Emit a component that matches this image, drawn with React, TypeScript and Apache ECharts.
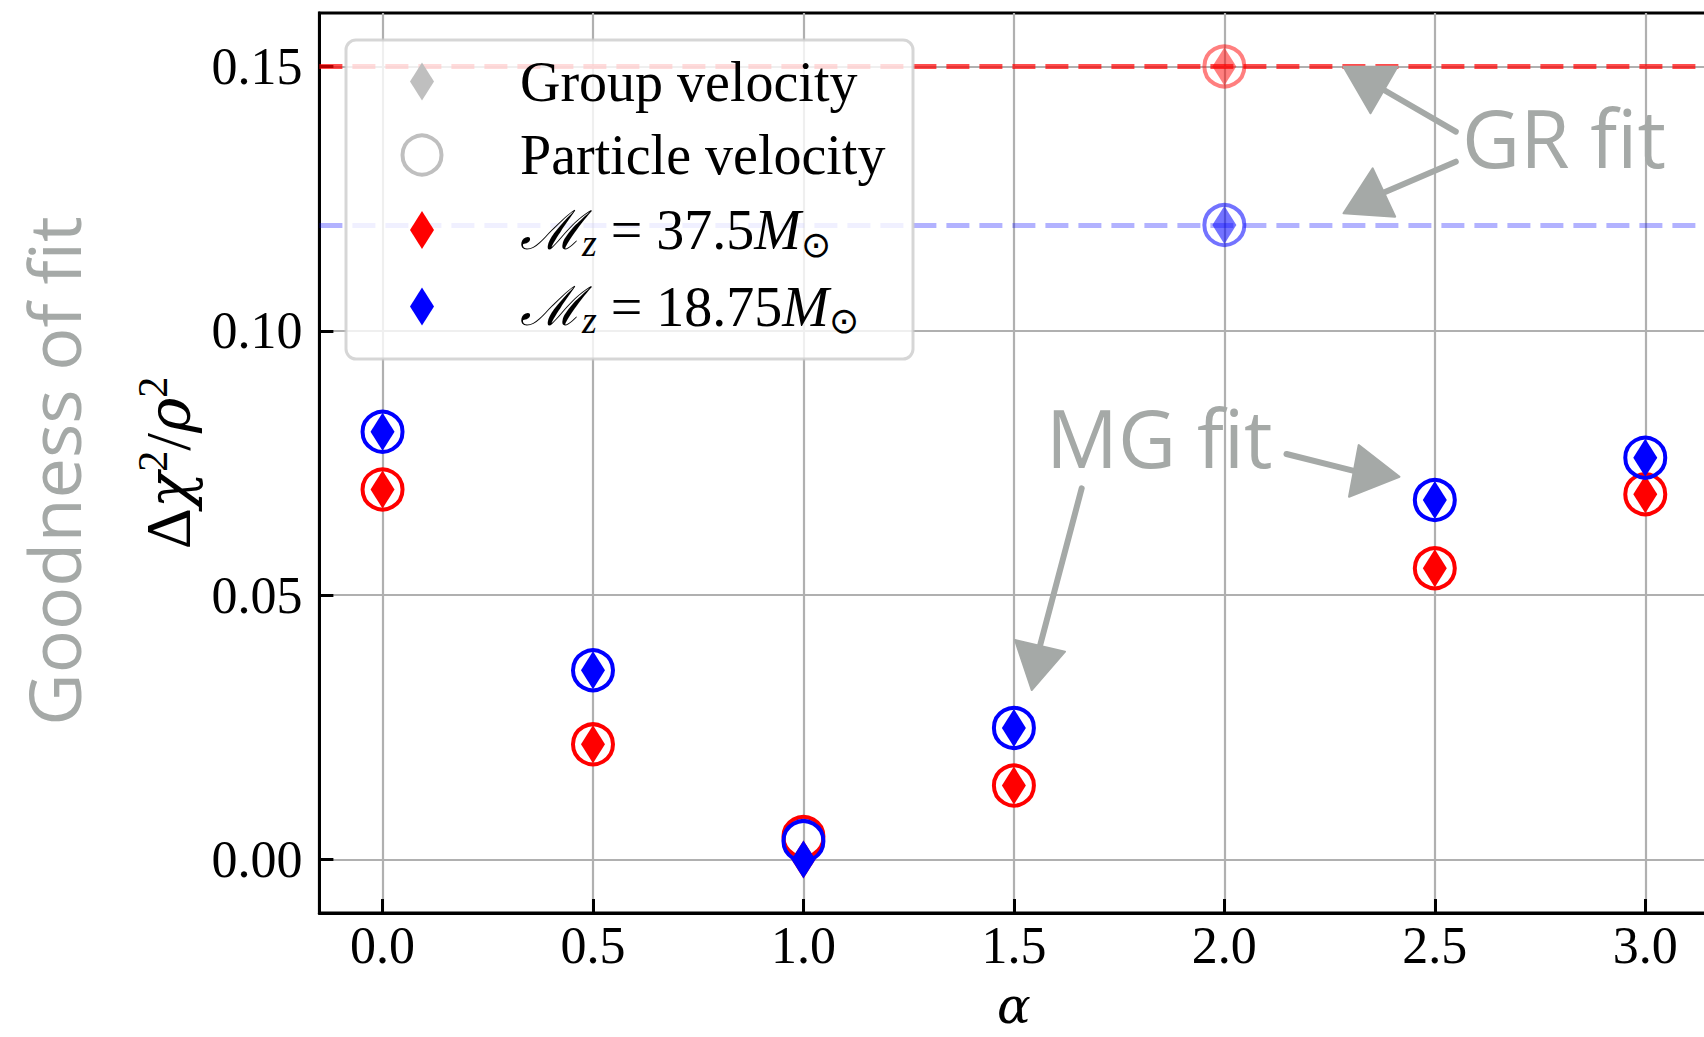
import React, { useEffect, useRef } from 'react';
import * as echarts from 'echarts';

// ---- data ----
const alphaValues = [0.0, 0.5, 1.0, 1.5, 2.5, 3.0];
const redGroupVelocity = [0.070, 0.0218, 0.0, 0.014, 0.0551, 0.0691];
const redParticleVelocity = [0.070, 0.0218, 0.0043, 0.014, 0.0551, 0.0691];
const blueGroupVelocity = [0.0809, 0.0358, 0.0, 0.0249, 0.068, 0.076];
const blueParticleVelocity = [0.0809, 0.0358, 0.0035, 0.0249, 0.068, 0.076];
const grAlpha = 2.0;
const grRed = 0.15;
const grBlue = 0.12;
const xTickValues = [0, 0.5, 1.0, 1.5, 2.0, 2.5, 3.0];
const yTickValues = [0, 0.05, 0.1, 0.15];

const GRAY = '#a5a9a7';
const SERIF = '"Liberation Serif", "DejaVu Serif", serif';
const GREEK = '"DejaVu Serif", serif';
const SANS = '"Open Sans", "Noto Sans", sans-serif';

const pair = (xs: number[], ys: number[]) => xs.map((x, i) => [x, ys[i]]);

const DIAMOND: [number, number] = [24, 38];
const CIRCLE = 40;

function diamondSeries(name: string, data: number[][], color: string, opacity = 1, z = 3) {
  return {
    type: 'scatter', name, data, symbol: 'diamond', symbolSize: DIAMOND, z,
    itemStyle: { color, opacity },
  };
}
function circleSeries(name: string, data: number[][], color: string, opacity = 1, z = 3) {
  return {
    type: 'scatter', name, data, symbol: 'circle', symbolSize: CIRCLE, z,
    itemStyle: { color: 'none', borderColor: color, borderWidth: 4, opacity },
  };
}

function txt(x: number, y: number, text: string, extra: any = {}, z = 60, rotation = 0) {
  const align = extra.align || 'left';
  return {
    type: 'text', x, y, z, rotation,
    style: {
      text,
      align, textAlign: align,
      verticalAlign: 'middle', textVerticalAlign: 'middle',
      ...extra,
    },
  };
}

function arrow(tail: number[], apex: number[], b1: number[], b2: number[]) {
  const mid = [(b1[0] + b2[0]) / 2, (b1[1] + b2[1]) / 2];
  return [
    {
      type: 'line', z: 40,
      shape: { x1: tail[0], y1: tail[1], x2: mid[0], y2: mid[1] },
      style: { stroke: GRAY, lineWidth: 6, lineCap: 'round' },
    },
    {
      type: 'polygon', z: 40,
      shape: { points: [apex, b1, b2] },
      style: { fill: GRAY, stroke: GRAY, lineWidth: 2, lineJoin: 'round' },
    },
  ];
}

const legendRich = {
  cal: { fontFamily: '"DejaVu Serif", serif', fontStyle: 'italic', fontSize: 54, lineHeight: 64, verticalAlign: 'middle', fill: '#000' },
  sub: { fontFamily: SERIF, fontStyle: 'italic', fontSize: 38, lineHeight: 22, verticalAlign: 'bottom', fill: '#000' },
  rm: { fontFamily: SERIF, fontSize: 56, lineHeight: 64, verticalAlign: 'middle', fill: '#000' },
  it: { fontFamily: SERIF, fontStyle: 'italic', fontSize: 56, lineHeight: 64, verticalAlign: 'middle', fill: '#000' },
  odot: { fontFamily: '"DejaVu Sans", sans-serif', fontSize: 36, lineHeight: 28, verticalAlign: 'bottom', fill: '#000' },
};

function legendGraphic() {
  const mx = 422;
  const tx = 520;
  const rows = [81.5, 155, 230, 306.5];
  const dia = (cx: number, cy: number, fill: string) => ({
    type: 'polygon', z: 61,
    shape: { points: [[cx, cy - 19], [cx + 12, cy], [cx, cy + 19], [cx - 12, cy]] },
    style: { fill },
  });
  return [
    {
      type: 'rect', z: 59,
      shape: { x: 346, y: 40, width: 567, height: 319, r: 10 },
      style: { fill: 'rgba(255,255,255,0.8)', stroke: 'rgba(204,204,204,0.8)', lineWidth: 3 },
    },
    dia(mx, rows[0], '#bfbfbf'),
    {
      type: 'circle', z: 61,
      shape: { cx: mx, cy: rows[1], r: 19.5 },
      style: { fill: 'none', stroke: '#bfbfbf', lineWidth: 4 },
    },
    dia(mx, rows[2], '#ff0000'),
    dia(mx, rows[3], '#0000ff'),
    txt(tx, rows[0], 'Group velocity', { fontFamily: SERIF, fontSize: 56, fill: '#000' }, 61),
    txt(tx, rows[1], 'Particle velocity', { fontFamily: SERIF, fontSize: 56, fill: '#000' }, 61),
    txt(tx, rows[2], '{cal|ℳ}{sub|z}{rm| = 37.5}{it|M}{odot|⊙}', { rich: legendRich }, 61),
    txt(tx, rows[3], '{cal|ℳ}{sub|z}{rm| = 18.75}{it|M}{odot|⊙}', { rich: legendRich }, 61),
  ];
}

export default function App() {
  const ref = useRef<HTMLDivElement>(null);
  useEffect(() => {
    document.body.style.margin = '0';
    const chart = echarts.init(ref.current!, null, { renderer: 'svg' });
    const option: any = {
      animation: false,
      backgroundColor: '#ffffff',
      grid: {
        left: 319.4, top: 13, width: 1389, height: 900,
        outerBoundsMode: 'none', containLabel: false,
        show: true, borderColor: '#000', borderWidth: 3, backgroundColor: 'transparent',
      },
      xAxis: {
        type: 'value', min: -0.15, max: 3.15,
        name: 'α', nameLocation: 'middle', nameGap: 93,
        nameTextStyle: {
          fontFamily: GREEK, fontStyle: 'italic', fontSize: 50, color: '#000',
          lineHeight: 48, verticalAlign: 'middle',
        },
        axisLine: { show: true, onZero: false, lineStyle: { color: '#000', width: 3 } },
        axisTick: { show: true, inside: true, length: 14, customValues: xTickValues, lineStyle: { color: '#000', width: 3 } },
        axisLabel: {
          customValues: xTickValues, margin: 6, fontFamily: SERIF, fontSize: 52, color: '#000',
          formatter: (v: number) => v.toFixed(1),
        },
        splitLine: { show: true, lineStyle: { color: '#b0b0b0', width: 2.2 } },
      },
      yAxis: {
        type: 'value', min: -0.0101, max: 0.1601,
        name: '{d|Δ}{i|χ}{s|2}{d|/}{i|ρ}{s|2}', nameLocation: 'middle', nameRotate: 90, nameGap: 112,
        nameTextStyle: {
          rich: {
            d: { fontFamily: SERIF, fontSize: 64, lineHeight: 74, verticalAlign: 'middle', color: '#000' },
            i: { fontFamily: GREEK, fontStyle: 'italic', fontSize: 60, lineHeight: 74, verticalAlign: 'middle', color: '#000' },
            s: { fontFamily: SERIF, fontSize: 42, lineHeight: 38, verticalAlign: 'top', color: '#000' },
          },
        },
        axisLine: { show: true, onZero: false, lineStyle: { color: '#000', width: 3 } },
        axisTick: { show: true, inside: true, length: 14, customValues: yTickValues, lineStyle: { color: '#000', width: 3 } },
        axisLabel: {
          customValues: yTickValues, margin: 17, fontFamily: SERIF, fontSize: 52, color: '#000',
          formatter: (v: number) => v.toFixed(2),
        },
        splitLine: { show: true, lineStyle: { color: '#b0b0b0', width: 2.2 } },
      },
      series: [
        {
          type: 'scatter', name: 'GR fit lines', data: [], z: 2,
          markLine: {
            silent: true, symbol: 'none', label: { show: false },
            data: [
              { yAxis: grRed, lineStyle: { color: '#ff0000', opacity: 0.7, width: 5, type: [23, 10] } },
              { yAxis: grBlue, lineStyle: { color: '#0000ff', opacity: 0.3, width: 5, type: [23, 10] } },
            ],
          },
        },
        diamondSeries('red group', pair(alphaValues, redGroupVelocity), '#ff0000'),
        circleSeries('red particle', pair(alphaValues, redParticleVelocity), '#ff0000'),
        diamondSeries('blue group', pair(alphaValues, blueGroupVelocity), '#0000ff', 1, 4),
        circleSeries('blue particle', pair(alphaValues, blueParticleVelocity), '#0000ff', 1, 4),
        diamondSeries('GR red group', [[grAlpha, grRed]], '#ff0000', 0.5),
        circleSeries('GR red particle', [[grAlpha, grRed]], '#ff0000', 0.5),
        diamondSeries('GR blue group', [[grAlpha, grBlue]], '#0000ff', 0.55),
        circleSeries('GR blue particle', [[grAlpha, grBlue]], '#0000ff', 0.55),
      ],
      graphic: [
        ...legendGraphic(),
        ...arrow([1455.8, 131.7], [1343.5, 66.7], [1397.4, 66.7], [1370.5, 113.3]),
        ...arrow([1455.8, 161.7], [1343.5, 213.3], [1372.7, 168.3], [1395.2, 216.7]),
        ...arrow([1286.5, 454], [1399.5, 476.7], [1358.7, 445], [1349, 496.7]),
        ...arrow([1081.7, 488.3], [1031.7, 690], [1015, 640], [1065, 651.7]),
        txt(1462, 136, 'GR fit', { fontFamily: SANS, fontSize: 80, fill: GRAY }, 45),
        txt(1046, 436, 'MG fit', { fontFamily: SANS, fontSize: 80, fill: GRAY }, 45),
        txt(53, 471, 'Goodness of fit', { fontFamily: SANS, fontSize: 72, fill: GRAY, align: 'center' }, 45, Math.PI / 2),
      ],
    };
    chart.setOption(option);
    return () => chart.dispose();
  }, []);
  return <div ref={ref} style={{ width: 1704, height: 1037 }} />;
}
